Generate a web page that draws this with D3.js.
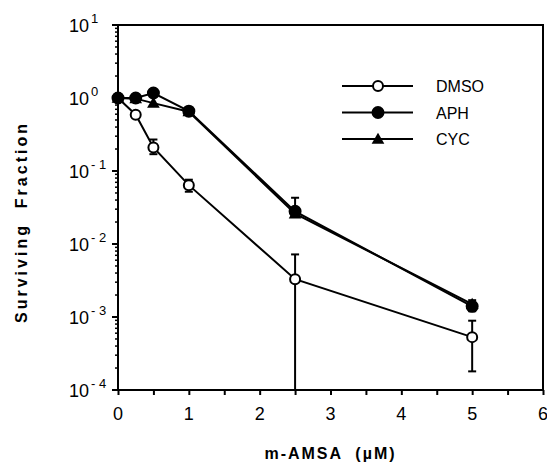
<!DOCTYPE html>
<html>
<head>
<meta charset="utf-8">
<script src="https://cdn.jsdelivr.net/npm/d3@7"></script>
<style>
  body { margin: 0; background: #fff; }
  svg text { font-family: "Liberation Sans", Arial, Helvetica, sans-serif; fill: #000; }
</style>
</head>
<body>
<svg id="chart" width="547" height="466"></svg>
<script>
// data
let doses = [0, 0.25, 0.5, 1, 2.5, 5];
let dmso = [1.0, 0.59, 0.21, 0.064, 0.0033, 0.00053];
let dmsoLow = [null, null, 0.17, 0.052, 0.00005, 0.00018];
let dmsoHigh = [null, null, 0.27, 0.076, 0.0072, 0.00089];
let aph = [1.0, 1.0, 1.17, 0.66, 0.028, 0.0014];
let aphLow = [null, null, null, null, 0.024, 0.0012];
let aphHigh = [null, null, null, null, 0.043, 0.0017];
let cyc = [1.0, 0.98, 0.85, 0.65, 0.026, 0.0015];
let seriesNames = ['DMSO', 'APH', 'CYC'];
let yTickExps = [1, 0, -1, -2, -3, -4];
let xTicks = [0, 1, 2, 3, 4, 5, 6];

let svg = d3.select('#chart');
let pLeft = 118, pRight = 543, pTop = 25, pBottom = 390;

let xScale = d3.scaleLinear().domain([0, 6]).range([pLeft, pRight]);
let yScale = d3.scaleLog().domain([1e-4, 10]).range([pBottom, pTop]).clamp(true);

// frame
svg.append('path')
    .attr('d', `M${pLeft},${pBottom}V${pTop}H${pRight}V${pBottom}Z`)
    .attr('fill', 'none')
    .attr('stroke', '#000')
    .attr('stroke-width', 2);

// y minor ticks
let minor = [];
for (let e = -4; e < 1; e++) {
    for (let m = 2; m <= 9; m++) minor.push(m * Math.pow(10, e));
}
svg.append('g').selectAll('line').data(minor).enter().append('line')
    .attr('x1', pLeft - 3).attr('x2', pLeft)
    .attr('y1', d => yScale(d)).attr('y2', d => yScale(d))
    .attr('stroke', '#000').attr('stroke-width', 1.5);

// y major ticks + labels
let yMaj = svg.append('g').selectAll('g').data(yTickExps).enter().append('g');
yMaj.append('line')
    .attr('x1', pLeft - 6).attr('x2', pLeft)
    .attr('y1', d => yScale(Math.pow(10, d))).attr('y2', d => yScale(Math.pow(10, d)))
    .attr('stroke', '#000').attr('stroke-width', 2);
let yLab = yMaj.append('text')
    .attr('x', 69)
    .attr('y', d => yScale(Math.pow(10, d)) + 7)
    .style('font-size', '18px');
yLab.append('tspan').text('10');
yLab.append('tspan')
    .attr('dy', -9)
    .attr('dx', 2)
    .style('font-size', '13px')
    .text(d => d < 0 ? '- ' + (-d) : d);

// x ticks
let xAxis = svg.append('g')
    .attr('transform', 'translate(0,' + pBottom + ')')
    .call(d3.axisBottom(xScale).tickValues(d3.range(0, 6.01, 0.5)).tickSize(5).tickFormat(''));
xAxis.select('.domain').remove();
xAxis.selectAll('.tick line').attr('stroke-width', 2);
svg.append('g').selectAll('text').data(xTicks).enter().append('text')
    .attr('x', d => xScale(d))
    .attr('y', pBottom + 30)
    .attr('text-anchor', 'middle')
    .style('font-size', '18px')
    .text(d => d);

// axis titles
svg.append('text')
    .attr('x', xScale(3))
    .attr('y', 459)
    .attr('text-anchor', 'middle')
    .style('font-size', '16px')
    .style('font-weight', 'bold')
    .style('letter-spacing', '2px')
    .attr('xml:space', 'preserve')
    .text('m-AMSA  (\u00b5M)');
svg.append('text')
    .attr('transform', 'translate(27,' + 222 + ') rotate(-90)')
    .attr('text-anchor', 'middle')
    .style('font-size', '16px')
    .style('font-weight', 'bold')
    .style('letter-spacing', '3px')
    .attr('xml:space', 'preserve')
    .text('Surviving  Fraction');

let line = d3.line().x(d => xScale(d.x)).y(d => yScale(d.y));
let toPts = (vals, lo, hi) => doses.map((x, i) => ({ x: x, y: vals[i], lo: lo ? lo[i] : null, hi: hi ? hi[i] : null }));
let series = [
    { name: seriesNames[0], pts: toPts(dmso, dmsoLow, dmsoHigh), shape: 'open' },
    { name: seriesNames[1], pts: toPts(aph, aphLow, aphHigh), shape: 'filled' },
    { name: seriesNames[2], pts: toPts(cyc), shape: 'tri' }
];

let marker = (g, shape, x, y) => {
    if (shape === 'tri') {
        g.append('path')
            .attr('d', d3.symbol(d3.symbolTriangle, 70)())
            .attr('transform', 'translate(' + x + ',' + (y + 1) + ')')
            .attr('fill', '#000');
    } else {
        g.append('circle')
            .attr('cx', x).attr('cy', y).attr('r', shape === 'open' ? 5 : 5.5)
            .attr('fill', shape === 'open' ? '#fff' : '#000')
            .attr('stroke', '#000').attr('stroke-width', 2);
    }
};

// lines
series.forEach(s => {
    svg.append('path').datum(s.pts)
        .attr('d', line)
        .attr('fill', 'none')
        .attr('stroke', '#000')
        .attr('stroke-width', 2);
});

// error bars
series.forEach(s => {
    s.pts.filter(p => p.lo != null).forEach(p => {
        let g = svg.append('g').attr('stroke', '#000').attr('stroke-width', 2);
        let cx = xScale(p.x);
        g.append('line').attr('x1', cx).attr('x2', cx).attr('y1', yScale(p.lo)).attr('y2', yScale(p.hi));
        g.append('line').attr('x1', cx - 4).attr('x2', cx + 4).attr('y1', yScale(p.hi)).attr('y2', yScale(p.hi));
        if (p.lo >= 1e-4) g.append('line').attr('x1', cx - 4).attr('x2', cx + 4).attr('y1', yScale(p.lo)).attr('y2', yScale(p.lo));
    });
});

// markers (DMSO under, then CYC, APH on top)
[series[0], series[2], series[1]].forEach(s => {
    let g = svg.append('g');
    s.pts.forEach(p => marker(g, s.shape, xScale(p.x), yScale(p.y)));
});

// legend
let legend = svg.append('g');
series.forEach((s, i) => {
    let y = 86 + i * 26.5;
    legend.append('line')
        .attr('x1', 342).attr('x2', 413).attr('y1', y).attr('y2', y)
        .attr('stroke', '#000').attr('stroke-width', 2);
    marker(legend, s.shape, 378, y);
    legend.append('text')
        .attr('x', 436).attr('y', y + 6)
        .style('font-size', '16px')
        .text(s.name);
});
</script>
</body>
</html>
